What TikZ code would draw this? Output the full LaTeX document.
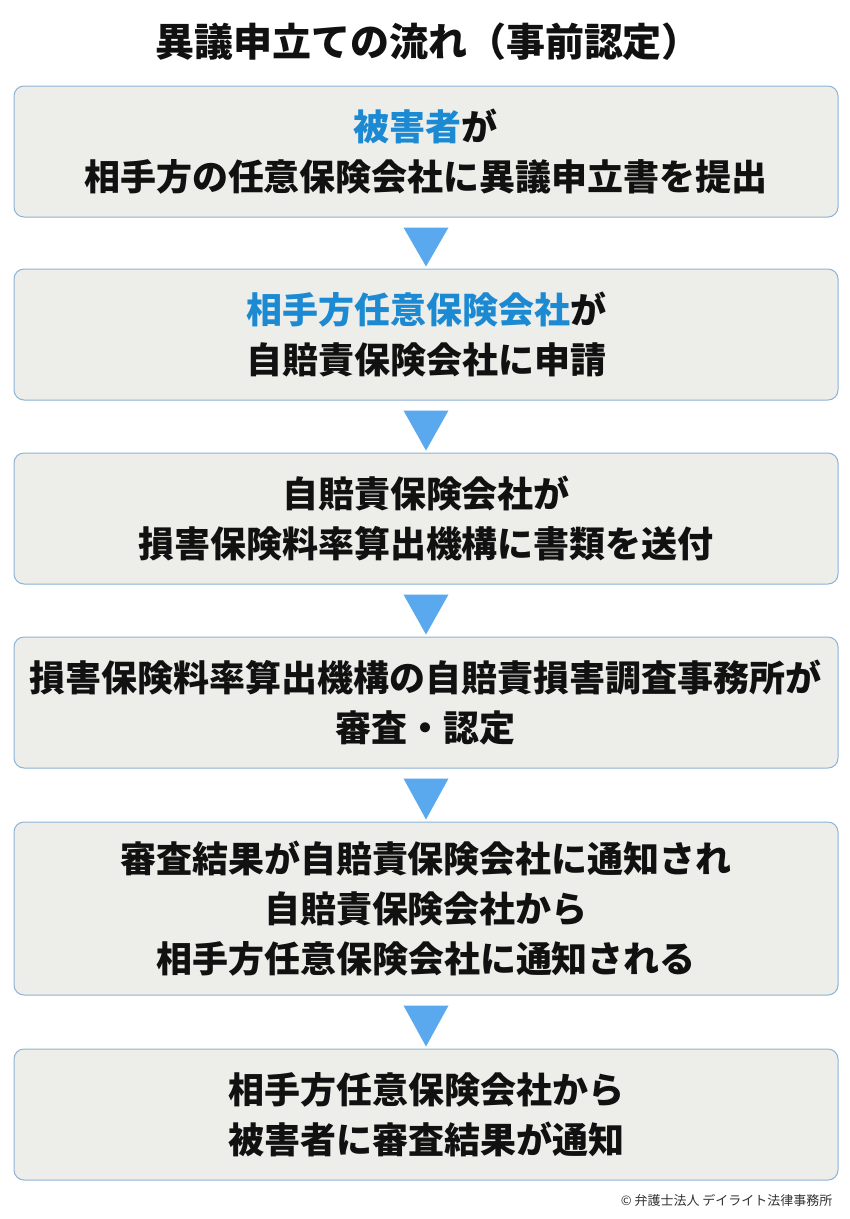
\documentclass[tikz,border=0pt]{standalone}
\usepackage{fontspec}
\setmainfont{Noto Sans CJK JP}
\usetikzlibrary{calc}
\definecolor{boxfill}{HTML}{EDEDEA}
\definecolor{boxline}{HTML}{8DB3D6}
\definecolor{arrowc}{HTML}{5AA9EE}
\definecolor{hl}{HTML}{1B8AD2}
\definecolor{txt}{HTML}{111111}
\definecolor{copyc}{HTML}{333333}
\begin{document}
\begin{tikzpicture}[x=1pt,y=-1pt,
  stepbox/.style={draw=boxline,line width=1pt,fill=boxfill,rounded corners=10pt,
    minimum width=824pt,align=center,text=txt,inner sep=0pt,
    font=\fontsize{36}{50}\selectfont\bfseries},
  tri/.style={fill=arrowc}]
\useasboundingbox[fill=white] (0,0) rectangle (850,1219);
\node[font=\fontsize{39}{46}\selectfont\bfseries,text=txt] (title) at (428,42) {異議申立ての流れ（事前認定）};
\node[stepbox,minimum height=131pt] (b1) at (426,151.5) {{\color{hl}被害者}が\\相手方の任意保険会社に異議申立書を提出};
\node[stepbox,minimum height=131pt] (b2) at (426,334.5) {{\color{hl}相手方任意保険会社}が\\自賠責保険会社に申請};
\node[stepbox,minimum height=131pt] (b3) at (426,518.5) {自賠責保険会社が\\損害保険料率算出機構に書類を送付};
\node[stepbox,minimum height=131pt] (b4) at (426,702.5) {損害保険料率算出機構の自賠責損害調査事務所が\\審査・認定};
\node[stepbox,minimum height=173pt] (b5) at (426,908.5) {審査結果が自賠責保険会社に通知され\\自賠責保険会社から\\相手方任意保険会社に通知される};
\node[stepbox,minimum height=131pt] (b6) at (426,1114.5) {相手方任意保険会社から\\被害者に審査結果が通知};
\foreach \a/\b in {b1/b2,b2/b3,b3/b4,b4/b5,b5/b6}{
  \fill[tri] ($(\a.south)+(-22.5,10)$) -- ($(\a.south)+(22.5,10)$) -- ($(\b.north)+(0,-2)$) -- cycle;
}
\node[anchor=east,font=\fontsize{13}{16}\selectfont,text=copyc] (copy) at (836,1200) {© 弁護士法人 デイライト法律事務所};
\end{tikzpicture}
\end{document}
